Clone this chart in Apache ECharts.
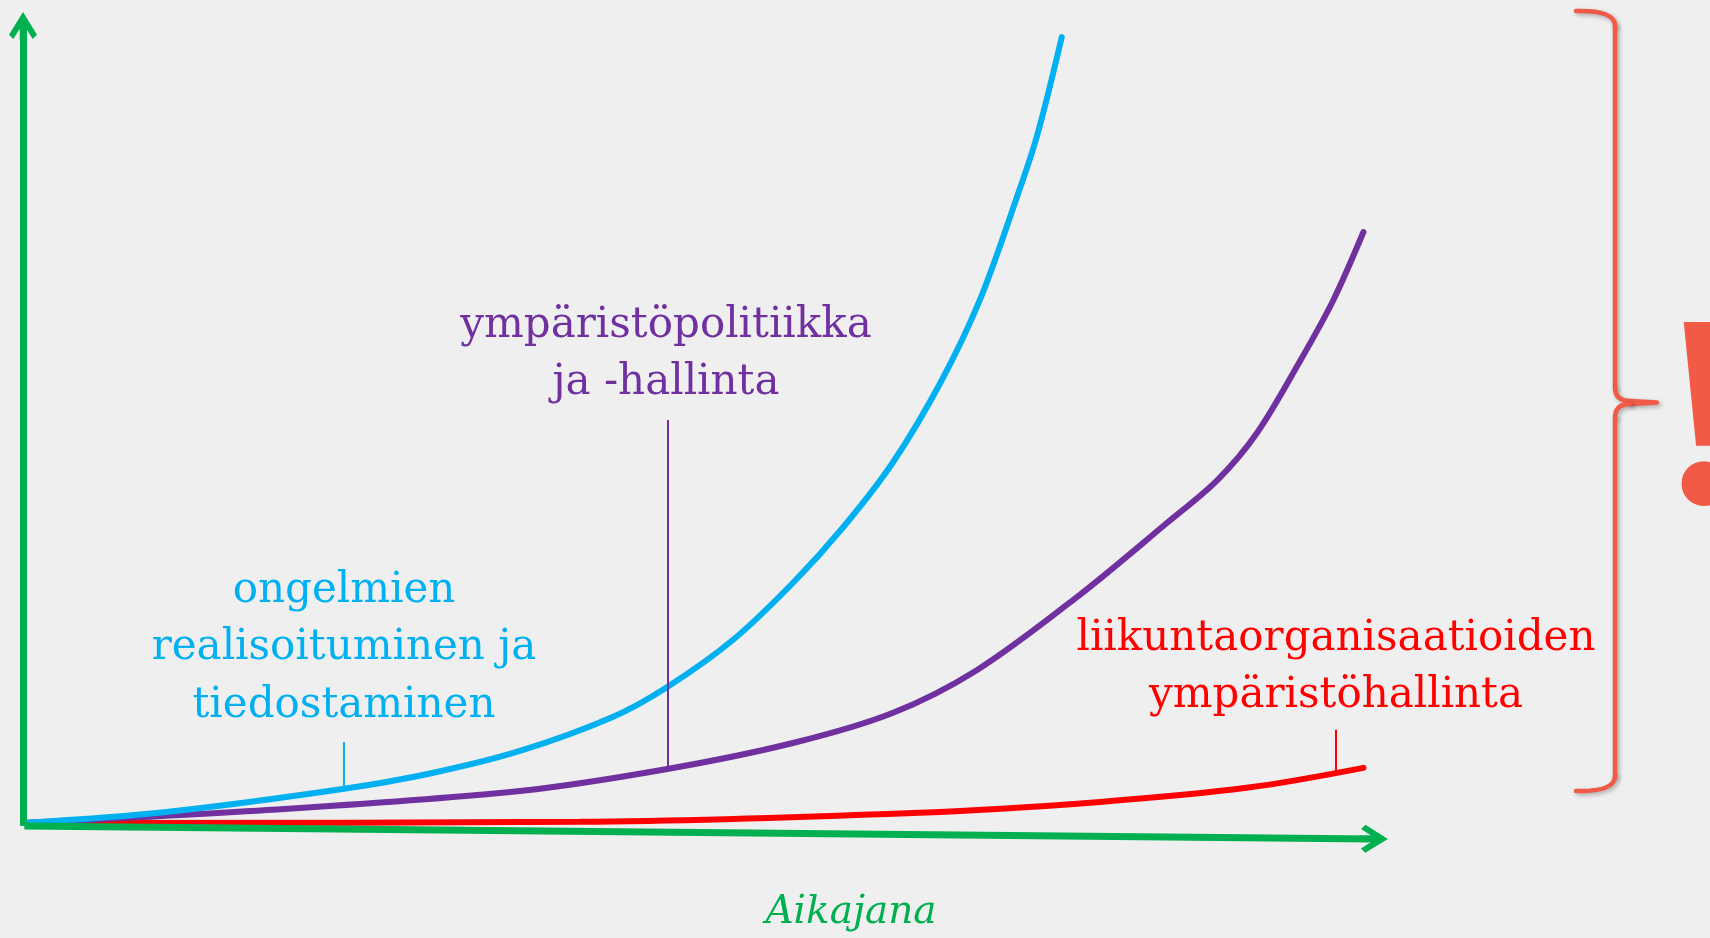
<!DOCTYPE html>
<html>
<head>
<meta charset="utf-8">
<title>Aikajana</title>
<script src="https://cdn.jsdelivr.net/npm/echarts@6/dist/echarts.min.js"></script>
<style>
html, body { margin: 0; padding: 0; background: #efefef; }
#main { width: 1710px; height: 938px; }
</style>
</head>
<body>
<div id="main"></div>
<script>
// curves, [time, level] on a 0..100 x 0..100 plane
const ongelmat = [[0, 0], [10.5, 1.36], [23.4, 4.19], [30.0, 6.17], [36.4, 8.88],
  [43.2, 13.07], [47.2, 16.77], [52.0, 22.56], [56.4, 29.59], [60.1, 36.5], [63.7, 44.39],
  [67.2, 54.25], [70.1, 64.5], [72.8, 77.1], [74.3, 84.8], [76.1, 96.9]];
const politiikka = [[0, 0], [17.9, 1.6], [36.4, 3.95], [47.2, 6.66], [56.4, 9.86], [63.7, 13.56],
  [69.9, 18.87], [77.4, 28.11], [83.8, 36.99], [87.5, 42.29], [90.4, 48.09], [93.6, 57.09],
  [96, 64.49], [98.2, 72.87]];
const liikunta = [[0, 0], [40.8, 0.15], [65.2, 1.23], [78.9, 2.6], [89.9, 4.4], [98.2, 6.8]];

// leader lines: [x, level on curve, top]
const ongelmatLeader = [23.5, 4.2, 10.0];
const politiikkaLeader = [47.2, 6.6, 49.7];
const liikuntaLeader = [96.2, 6.2, 11.5];

// hand drawn axes (x axis sags slightly to the right)
const yAxisLine = [[0, -0.3], [0, 98.27]];
const xAxisLine = [[0.1, -0.37], [98.97, -1.96]];

const ongelmatLabel = ['ongelmien', 'realisoituminen ja', 'tiedostaminen'];
const politiikkaLabel = ['ympäristöpolitiikka', 'ja -hallinta'];
const liikuntaLabel = ['liikuntaorganisaatioiden', 'ympäristöhallinta'];
const xAxisName = 'Aikajana';

const GREEN = '#00b050';
const BLUE = '#00b0f0';
const PURPLE = '#7030a0';
const RED = '#ff0000';
const ALERT = '#f05a46';

const chevron = 'path://M13,0 L26,21 L22,25 L16,15.5 L16,26 L10,26 L10,15.5 L4,25 L0,21 Z';

function curve(name, data, color, leader) {
  return {
    name: name,
    type: 'line',
    data: data,
    smooth: 0.33,
    symbol: 'none',
    clip: false,
    lineStyle: { color: color, width: 6, cap: 'round' },
    markLine: {
      silent: true,
      symbol: 'none',
      animation: false,
      label: { show: false },
      lineStyle: { color: color, width: 2, type: 'solid' },
      data: [[{ coord: [leader[0], leader[1]] }, { coord: [leader[0], leader[2]] }]]
    }
  };
}

function labelLines(lines, cx, firstMid, step, color) {
  return lines.map(function (t, i) {
    return {
      type: 'text',
      x: cx,
      y: firstMid + i * step,
      silent: true,
      style: {
        text: t,
        fill: color,
        fontFamily: 'DejaVu Serif',
        fontSize: 42,
        align: 'center',
        verticalAlign: 'middle',
        textAlign: 'center',
        textVerticalAlign: 'middle'
      }
    };
  });
}

// the brace on the right, built from plain segments
const braceStyle = {
  fill: null,
  stroke: ALERT,
  lineWidth: 4.5,
  lineCap: 'round',
  lineJoin: 'round',
  shadowBlur: 4,
  shadowColor: 'rgba(0,0,0,0.3)',
  shadowOffsetX: 2,
  shadowOffsetY: 2
};
function bez(x1, y1, cx, cy, x2, y2) {
  return { type: 'bezierCurve', silent: true, shape: { x1: x1, y1: y1, cpx1: cx, cpy1: cy, x2: x2, y2: y2 }, style: braceStyle };
}
function seg(x1, y1, x2, y2) {
  return { type: 'line', silent: true, shape: { x1: x1, y1: y1, x2: x2, y2: y2 }, style: braceStyle };
}
const brace = [
  bez(1576, 11, 1615, 10, 1615, 26),
  seg(1615, 26, 1615, 387),
  bez(1615, 387, 1615, 401, 1630, 401),
  { type: 'polyline', silent: true, shape: { points: [[1630, 401], [1657, 402.5], [1630, 404]] }, style: braceStyle },
  bez(1630, 404, 1615, 404, 1615, 418),
  seg(1615, 418, 1615, 776),
  bez(1615, 776, 1615, 792, 1576, 791)
];

const chart = echarts.init(document.getElementById('main'));

const option = {
  backgroundColor: '#efefef',
  animation: false,
  // y runs from -4 so the sagging x axis stays inside the grid; level 0 sits at 823px
  grid: { left: 23, right: 322, top: 12, bottom: 82.56 },
  xAxis: { type: 'value', min: 0, max: 100, show: false },
  yAxis: { type: 'value', min: -4, max: 100, show: false },
  series: [
    curve('liikuntaorganisaatioiden ympäristöhallinta', liikunta, RED, liikuntaLeader),
    curve('ympäristöpolitiikka ja -hallinta', politiikka, PURPLE, politiikkaLeader),
    curve('ongelmien realisoituminen ja tiedostaminen', ongelmat, BLUE, ongelmatLeader),
    {
      name: 'akselit',
      type: 'line',
      data: [yAxisLine[0]],
      symbol: 'none',
      lineStyle: { width: 0 },
      clip: false,
      markLine: {
        silent: true,
        animation: false,
        symbol: ['none', chevron],
        symbolSize: [28, 28],
        label: { show: false },
        lineStyle: { color: GREEN, width: 7, type: 'solid' },
        data: [
          [{ coord: yAxisLine[0] }, { coord: yAxisLine[1] }],
          [{ coord: xAxisLine[0] }, { coord: xAxisLine[1] }]
        ]
      }
    }
  ],
  graphic: [].concat(
    labelLines(ongelmatLabel, 344, 591, 57.5, BLUE),
    labelLines(politiikkaLabel, 666, 326, 57, PURPLE),
    labelLines(liikuntaLabel, 1336, 639, 57, RED),
    brace,
    [
      {
        type: 'text',
        x: 851,
        y: 913,
        silent: true,
        style: {
          text: xAxisName,
          fill: GREEN,
          fontFamily: 'DejaVu Serif',
          fontStyle: 'italic',
          fontSize: 39,
          align: 'center',
          verticalAlign: 'middle',
          textAlign: 'center',
          textVerticalAlign: 'middle'
        }
      },
      {
        type: 'text',
        x: 1704,
        y: 431,
        silent: true,
        style: {
          text: '!',
          fill: ALERT,
          fontFamily: 'Liberation Serif',
          fontWeight: 'bold',
          fontSize: 275,
          align: 'center',
          verticalAlign: 'middle',
          textAlign: 'center',
          textVerticalAlign: 'middle',
          shadowBlur: 4,
          shadowColor: 'rgba(0,0,0,0.3)',
          shadowOffsetX: 2,
          shadowOffsetY: 2
        }
      }
    ]
  )
};

chart.setOption(option);
</script>
</body>
</html>
